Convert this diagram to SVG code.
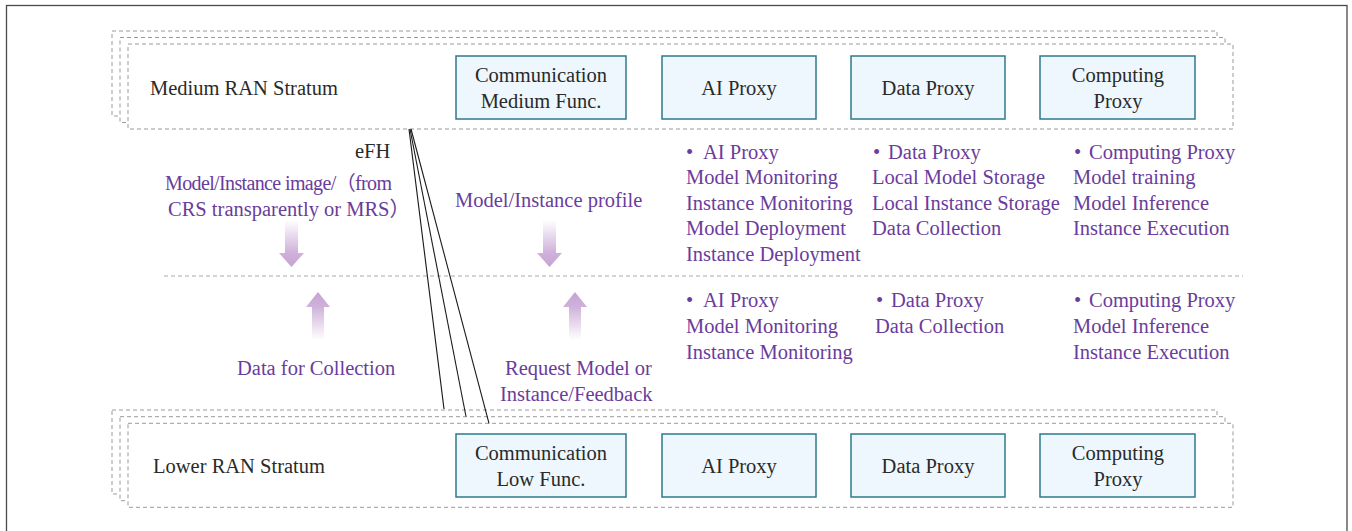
<svg xmlns="http://www.w3.org/2000/svg" width="1352" height="531" viewBox="0 0 1352 531">
  <defs>
    <linearGradient id="fadeDown" x1="0" y1="0" x2="0" y2="1">
      <stop offset="0" stop-color="#c6a3d4" stop-opacity="0"/>
      <stop offset="0.7" stop-color="#c6a3d4" stop-opacity="0.85"/>
      <stop offset="1" stop-color="#c6a3d4"/>
    </linearGradient>
    <linearGradient id="fadeUp" x1="0" y1="1" x2="0" y2="0">
      <stop offset="0" stop-color="#c6a3d4" stop-opacity="0"/>
      <stop offset="0.7" stop-color="#c6a3d4" stop-opacity="0.85"/>
      <stop offset="1" stop-color="#c6a3d4"/>
    </linearGradient>
    <style>
      .frame { fill: none; stroke: #4a4a4a; stroke-width: 1.3; }
      .layer { fill: #ffffff; stroke: #9a9a9a; stroke-width: 1; stroke-dasharray: 4 3; }
      .sep { fill: none; stroke: #a8a8a8; stroke-width: 1; stroke-dasharray: 4 3; }
      .box { fill: #eef7fd; stroke: #2e7a8c; stroke-width: 1.5; }
      .link { fill: none; stroke: #1a1a1a; stroke-width: 1.1; }
      text { font-family: "Liberation Serif", "Times New Roman", "Noto Sans CJK SC", serif; font-size: 20.5px; }
      .dark { fill: #2a2a2a; }
      .purple { fill: #6a3c9c; }
      .mid { text-anchor: middle; }
      .small { font-size: 20px; }
    </style>
  </defs>

  <!-- outer frame -->
  <rect class="frame" x="6.5" y="5.5" width="1340.5" height="540"/>

  <!-- Medium RAN Stratum -->
  <g id="medium-stratum">
    <rect class="layer" x="112" y="31" width="1105" height="85"/>
    <rect class="layer" x="120" y="37.5" width="1105" height="85"/>
    <rect class="layer" x="128" y="44" width="1105" height="85"/>
    <text class="dark" x="150" y="95">Medium RAN Stratum</text>
  </g>
  <g id="comm-medium">
    <rect class="box" x="456" y="56" width="170" height="63"/>
    <text class="dark mid" x="541" y="82">Communication</text>
    <text class="dark mid" x="541" y="108">Medium Func.</text>
  </g>
  <g id="ai-proxy-medium">
    <rect class="box" x="662" y="56" width="154" height="63"/>
    <text class="dark mid" x="739" y="95">AI Proxy</text>
  </g>
  <g id="data-proxy-medium">
    <rect class="box" x="851" y="56" width="154" height="63"/>
    <text class="dark mid" x="928" y="95">Data Proxy</text>
  </g>
  <g id="computing-proxy-medium">
    <rect class="box" x="1040" y="56" width="155" height="63"/>
    <text class="dark mid" x="1118" y="82">Computing</text>
    <text class="dark mid" x="1118" y="108">Proxy</text>
  </g>

  <!-- Lower RAN Stratum -->
  <g id="lower-stratum">
    <rect class="layer" x="112" y="410" width="1105" height="84"/>
    <rect class="layer" x="120" y="416.7" width="1105" height="84"/>
    <rect class="layer" x="128" y="423.3" width="1105" height="84"/>
    <text class="dark" x="153" y="473">Lower RAN Stratum</text>
  </g>
  <g id="comm-low">
    <rect class="box" x="456" y="434" width="170" height="63"/>
    <text class="dark mid" x="541" y="460">Communication</text>
    <text class="dark mid" x="541" y="486">Low Func.</text>
  </g>
  <g id="ai-proxy-low">
    <rect class="box" x="662" y="434" width="154" height="63"/>
    <text class="dark mid" x="739" y="473">AI Proxy</text>
  </g>
  <g id="data-proxy-low">
    <rect class="box" x="851" y="434" width="154" height="63"/>
    <text class="dark mid" x="928" y="473">Data Proxy</text>
  </g>
  <g id="computing-proxy-low">
    <rect class="box" x="1040" y="434" width="155" height="63"/>
    <text class="dark mid" x="1118" y="460">Computing</text>
    <text class="dark mid" x="1118" y="486">Proxy</text>
  </g>

  <!-- boundary between strata -->
  <line class="sep" x1="164" y1="276" x2="1243" y2="276"/>

  <!-- connectors: eFH links and flow arrows -->
  <g id="connectors">
    <line class="link" x1="409" y1="129" x2="444" y2="409"/>
    <line class="link" x1="410" y1="129" x2="466" y2="416.5"/>
    <line class="link" x1="411" y1="129" x2="489" y2="423.3"/>
    <path fill="url(#fadeDown)" d="M285,220 H298 V253 H304 L291.5,267 L279,253 H285 Z"/>
    <path fill="url(#fadeDown)" d="M543,220 H556 V253 H562 L549.5,267 L537,253 H543 Z"/>
    <path fill="url(#fadeUp)" d="M312,340 H324 V307 H330 L318,292 L306,307 H312 Z"/>
    <path fill="url(#fadeUp)" d="M569,340 H581 V307 H587 L575,292 L563,307 H569 Z"/>
  </g>

  <!-- link and flow labels -->
  <g id="labels">
    <text class="dark" x="355" y="158">eFH</text>
    <text class="purple small" x="165" y="190" textLength="227" lengthAdjust="spacing">Model/Instance image/（from</text>
    <text class="purple" x="168" y="216">CRS transparently or MRS）</text>
    <text class="purple" x="455" y="207">Model/Instance profile</text>
    <text class="purple" x="237" y="375">Data for Collection</text>
    <text class="purple" x="505" y="375">Request Model or</text>
    <text class="purple" x="500" y="401">Instance/Feedback</text>
  </g>

  <!-- functions per proxy, medium stratum -->
  <g id="medium-functions" class="purple">
    <text x="686" y="159">•<tspan x="703">AI Proxy</tspan></text>
    <text x="686" y="184">Model Monitoring</text>
    <text x="686" y="210">Instance Monitoring</text>
    <text x="686" y="235">Model Deployment</text>
    <text x="686" y="261">Instance Deployment</text>

    <text x="873" y="159">•<tspan x="888">Data Proxy</tspan></text>
    <text x="872" y="184">Local Model Storage</text>
    <text x="872" y="210">Local Instance Storage</text>
    <text x="872" y="235">Data Collection</text>

    <text x="1074" y="159">•<tspan x="1089">Computing Proxy</tspan></text>
    <text x="1073" y="184">Model training</text>
    <text x="1073" y="210">Model Inference</text>
    <text x="1073" y="235">Instance Execution</text>
  </g>

  <!-- functions per proxy, lower stratum -->
  <g id="lower-functions" class="purple">
    <text x="686" y="307">•<tspan x="703">AI Proxy</tspan></text>
    <text x="686" y="333">Model Monitoring</text>
    <text x="686" y="359">Instance Monitoring</text>

    <text x="876" y="307">•<tspan x="891">Data Proxy</tspan></text>
    <text x="875" y="333">Data Collection</text>

    <text x="1074" y="307">•<tspan x="1089">Computing Proxy</tspan></text>
    <text x="1073" y="333">Model Inference</text>
    <text x="1073" y="359">Instance Execution</text>
  </g>
</svg>
